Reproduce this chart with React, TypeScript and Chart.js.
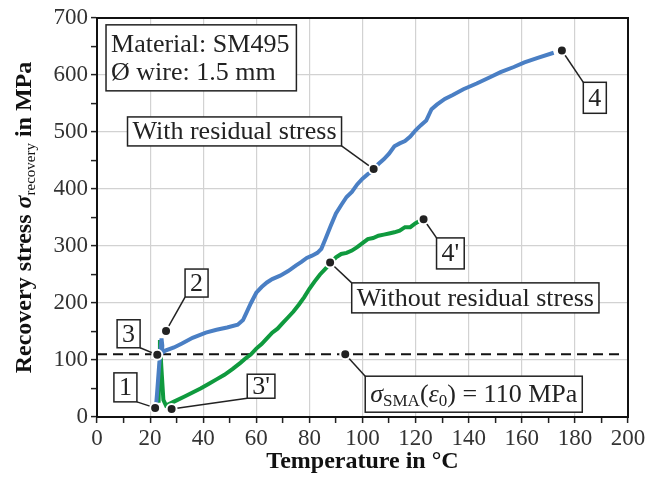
import React, { useEffect, useRef } from "react";
import { Chart, registerables } from "chart.js";

Chart.register(...registerables);

// ---- data ----
const withResidualX = [22.2, 22.6, 23.4, 24.3, 24.6, 24.4, 25.5, 29, 32, 36, 41, 45, 49, 53, 55, 56, 58, 60, 62, 64, 66, 69, 72, 75, 77, 79, 81, 83, 84.5, 86, 88, 90, 92, 94, 96, 98, 100, 102, 104, 106, 108, 110, 112, 114, 116, 118, 120, 122, 124, 126, 128, 131, 134, 138, 143, 148, 152, 157, 161, 166, 172];
const withResidualY = [18, 40, 90, 138, 125, 112, 116, 122, 129, 139, 148, 153, 157, 162, 170, 180, 200, 218, 228, 236, 242, 248, 256, 266, 272, 279, 283, 288, 295, 312, 335, 357, 372, 386, 395, 408, 418, 426, 432, 444, 452, 462, 475, 480, 484, 492, 503, 512, 520, 540, 548, 558, 565, 575, 585, 596, 605, 614, 622, 630, 639];

const withoutResidualX = [23.2, 23.4, 23.7, 24.2, 25, 26, 29, 33, 36, 39, 42, 45, 48, 51, 54, 56, 58, 60, 62, 64, 66, 68, 70, 72, 74, 76, 78, 80, 82, 84, 86, 88, 90, 92, 94, 96, 98, 100, 102, 104, 106, 108, 110, 112, 114, 116, 118, 120, 122];
const withoutResidualY = [25, 80, 135, 90, 30, 20, 27, 36, 43, 50, 58, 66, 74, 84, 95, 103, 110, 120, 128, 138, 148, 155, 165, 175, 185, 197, 210, 225, 238, 250, 260, 270, 280, 286, 288, 292, 298, 305, 312, 314, 318, 320, 322, 324, 327, 333, 333, 340, 345];

const thresholdX = [0, 198];
const thresholdY = [110, 110];

const xTickLabels = [0, 20, 40, 60, 80, 100, 120, 140, 160, 180, 200];
const yTickLabels = [0, 100, 200, 300, 400, 500, 600, 700];

const infoLines = ["Material: SM495", "Ø wire: 1.5 mm"];
const infoAnchor = { x: 3.4, y: 688 };

type Seg = { t: string; f: string; dy?: number };
const F = "'Liberation Serif', 'Times New Roman', serif";

const callouts: { dot: [number, number]; at: [number, number]; segs: Seg[]; h: number }[] = [
  { dot: [21.9, 16], at: [10.7, 52], segs: [{ t: "1", f: `26px ${F}` }], h: 29 },
  { dot: [26, 151], at: [37.5, 235], segs: [{ t: "2", f: `26px ${F}` }], h: 28 },
  { dot: [22.7, 109], at: [11.9, 146], segs: [{ t: "3", f: `26px ${F}` }], h: 28 },
  { dot: [28.1, 14], at: [61.8, 54], segs: [{ t: "3'", f: `26px ${F}` }], h: 24 },
  { dot: [175.1, 643], at: [187.5, 560], segs: [{ t: "4", f: `26px ${F}` }], h: 31 },
  { dot: [123, 347], at: [133.1, 287], segs: [{ t: "4'", f: `26px ${F}` }], h: 31 },
  { dot: [104.2, 435], at: [51.8, 501], segs: [{ t: "With residual stress", f: `26px ${F}` }], h: 29 },
  { dot: [87.8, 271], at: [142.5, 209], segs: [{ t: "Without residual stress", f: `26px ${F}` }], h: 30 },
  {
    dot: [93.5, 110],
    at: [141.9, 40],
    segs: [
      { t: "σ", f: `italic 26px ${F}` },
      { t: "SMA", f: `17px ${F}`, dy: 6 },
      { t: "(", f: `26px ${F}` },
      { t: "ε", f: `italic 26px ${F}` },
      { t: "0", f: `17px ${F}`, dy: 6 },
      { t: ") = 110 MPa", f: `26px ${F}` },
    ],
    h: 36,
  },
];

const yTitle: Seg[] = [
  { t: "Recovery stress ", f: `bold 24px ${F}` },
  { t: "σ", f: `bold italic 24px ${F}` },
  { t: "recovery", f: `15px ${F}`, dy: 6 },
  { t: " in MPa", f: `bold 24px ${F}` },
];
const xTitle = "Temperature in °C";

function segWidth(ctx: CanvasRenderingContext2D, segs: Seg[]) {
  let w = 0;
  for (const s of segs) {
    ctx.font = s.f;
    w += ctx.measureText(s.t).width;
  }
  return w;
}
function drawSegs(ctx: CanvasRenderingContext2D, segs: Seg[], x: number, y: number) {
  let cx = x;
  ctx.textBaseline = "middle";
  ctx.textAlign = "left";
  for (const s of segs) {
    ctx.font = s.f;
    ctx.fillText(s.t, cx, y + (s.dy || 0));
    cx += ctx.measureText(s.t).width;
  }
}

const decorPlugin = {
  id: "decor",
  afterDatasetsDraw(chart: any) {
    const { ctx, chartArea: a, scales } = chart;
    const xs = scales.x;
    const ys = scales.y;
    ctx.save();
    // frame
    ctx.strokeStyle = "#111";
    ctx.lineWidth = 2;
    ctx.strokeRect(a.left, a.top, a.right - a.left, a.bottom - a.top);

    // info box
    ctx.font = `26px ${F}`;
    const ix = xs.getPixelForValue(infoAnchor.x);
    const iy = ys.getPixelForValue(infoAnchor.y);
    const iw = Math.max(...infoLines.map((l) => ctx.measureText(l).width)) + 12;
    ctx.fillStyle = "#fff";
    ctx.fillRect(ix, iy, iw, 66);
    ctx.strokeStyle = "#222";
    ctx.lineWidth = 1.5;
    ctx.strokeRect(ix, iy, iw, 66);
    ctx.fillStyle = "#222";
    ctx.textBaseline = "middle";
    ctx.textAlign = "left";
    infoLines.forEach((l, i) => ctx.fillText(l, ix + 5, iy + 20 + i * 28));

    // callouts
    for (const c of callouts) {
      const dx = xs.getPixelForValue(c.dot[0]);
      const dy = ys.getPixelForValue(c.dot[1]);
      const cx = xs.getPixelForValue(c.at[0]);
      const cy = ys.getPixelForValue(c.at[1]);
      const tw = segWidth(ctx, c.segs);
      const w = tw + 10;
      const h = c.h;
      const left = cx - w / 2;
      const top = cy - h / 2;
      const corners = [
        [left, top],
        [left + w, top],
        [left, top + h],
        [left + w, top + h],
      ];
      let best = corners[0];
      let bd = Infinity;
      for (const p of corners) {
        const d = (p[0] - dx) ** 2 + (p[1] - dy) ** 2;
        if (d < bd) {
          bd = d;
          best = p;
        }
      }
      ctx.strokeStyle = "#222";
      ctx.lineWidth = 1.5;
      ctx.beginPath();
      ctx.moveTo(dx, dy);
      ctx.lineTo(best[0], best[1]);
      ctx.stroke();
      ctx.fillStyle = "#fff";
      ctx.fillRect(left, top, w, h);
      ctx.strokeRect(left, top, w, h);
      ctx.fillStyle = "#222";
      drawSegs(ctx, c.segs, left + 5, cy + 1);
      // dot
      ctx.beginPath();
      ctx.arc(dx, dy, 5, 0, Math.PI * 2);
      ctx.fillStyle = "#222";
      ctx.fill();
      ctx.strokeStyle = "#fff";
      ctx.lineWidth = 2;
      ctx.stroke();
    }
    ctx.restore();
  },
  afterDraw(chart: any) {
    const { ctx, chartArea: a } = chart;
    ctx.save();
    ctx.fillStyle = "#111";
    // x title
    ctx.font = `bold 24px ${F}`;
    ctx.textAlign = "center";
    ctx.textBaseline = "middle";
    ctx.fillText(xTitle, (a.left + a.right) / 2, 462);
    // y title
    const w = segWidth(ctx, yTitle);
    ctx.translate(25, (a.top + a.bottom) / 2);
    ctx.rotate(-Math.PI / 2);
    drawSegs(ctx, yTitle, -w / 2, 0);
    ctx.restore();
  },
};

export default function App() {
  const ref = useRef<HTMLCanvasElement>(null);
  useEffect(() => {
    document.body.style.margin = "0";
    const toPts = (xs: number[], ys: number[]) => xs.map((x, i) => ({ x, y: ys[i] }));
    const chart = new Chart(ref.current!, {
      type: "line",
      data: {
        datasets: [
          {
            label: "With residual stress",
            data: toPts(withResidualX, withResidualY),
            borderColor: "#4a7fc4",
            borderWidth: 4,
            pointRadius: 0,
            tension: 0,
          },
          {
            label: "Without residual stress",
            data: toPts(withoutResidualX, withoutResidualY),
            borderColor: "#0f9a3e",
            borderWidth: 4,
            pointRadius: 0,
            tension: 0,
          },
          {
            label: "threshold",
            data: toPts(thresholdX, thresholdY),
            borderColor: "#111",
            borderWidth: 2,
            borderDash: [10, 6],
            pointRadius: 0,
          },
        ],
      },
      options: {
        responsive: false,
        animation: false,
        layout: { padding: { top: 18, right: 22, left: 0, bottom: 0 } },
        plugins: { legend: { display: false }, tooltip: { enabled: false } },
        scales: {
          x: {
            type: "linear",
            min: 0,
            max: 200,
            afterFit: (s: any) => {
              s.height = 65;
            },
            ticks: {
              stepSize: 10,
              autoSkip: false,
              maxRotation: 0,
              padding: 2,
              color: "#333",
              font: { family: F, size: 23 },
              callback: (v: any) => (xTickLabels.includes(Number(v)) ? String(v) : ""),
            },
            grid: {
              color: (c: any) => (c.tick && xTickLabels.includes(c.tick.value) ? "#d2d2d2" : "rgba(0,0,0,0)"),
              lineWidth: 1.2,
              tickColor: "#222",
              tickLength: 6,
              tickWidth: 1.5,
            },
            border: { display: true, color: "#111", width: 2 },
          },
          y: {
            type: "linear",
            min: 0,
            max: 700,
            afterFit: (s: any) => {
              s.width = 97;
            },
            ticks: {
              stepSize: 50,
              autoSkip: false,
              padding: 3,
              color: "#333",
              font: { family: F, size: 23 },
              callback: (v: any) => (yTickLabels.includes(Number(v)) ? String(v) : ""),
            },
            grid: {
              color: (c: any) => (c.tick && yTickLabels.includes(c.tick.value) ? "#d2d2d2" : "rgba(0,0,0,0)"),
              lineWidth: 1.2,
              tickColor: "#222",
              tickLength: 6,
              tickWidth: 1.5,
            },
            border: { display: true, color: "#111", width: 2 },
          },
        },
      },
      plugins: [decorPlugin],
    });
    return () => chart.destroy();
  }, []);
  return <canvas ref={ref} width={650} height={482} style={{ display: "block" }} />;
}
